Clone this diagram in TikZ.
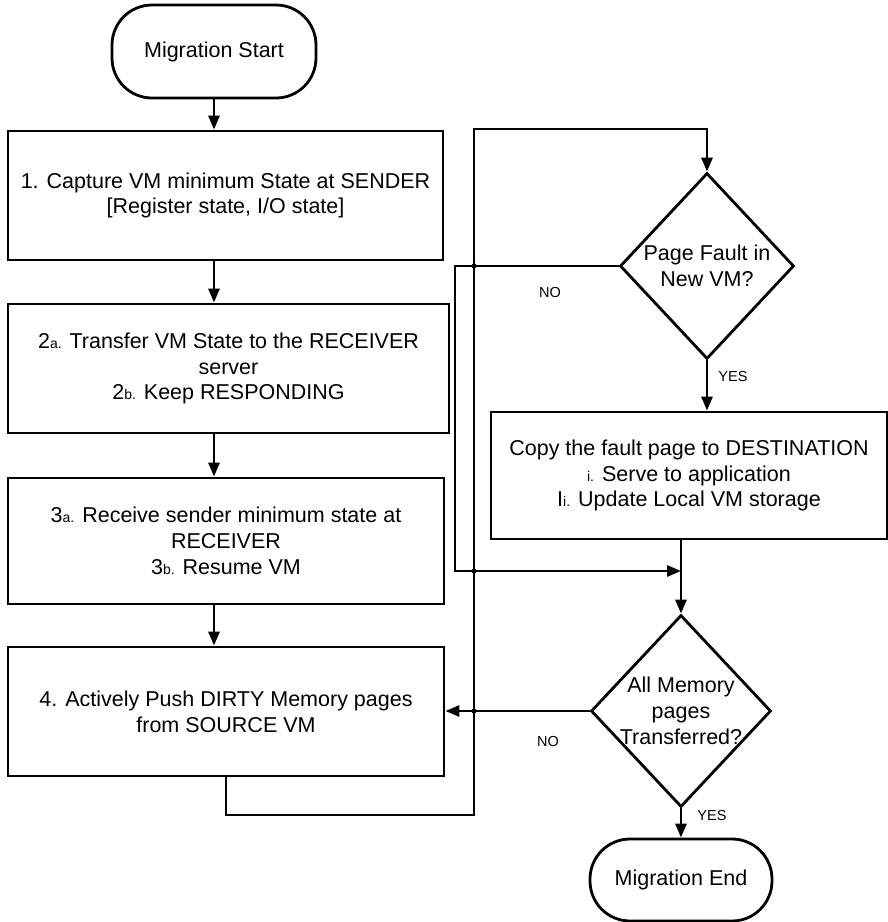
\documentclass[tikz,border=0pt]{standalone}
\usepackage{fontspec}
\setmainfont{Liberation Sans}
\usetikzlibrary{arrows.meta,shapes.geometric}
% small step letters (2a, 3b, i., ii.) set on the baseline
\newcommand\stepidx[1]{{\fontsize{14}{14}\selectfont #1}}
\begin{document}
\begin{tikzpicture}[x=1pt,y=-1pt,
  every node/.style={font=\fontsize{21.5}{25.8}\selectfont},
  procbox/.style={draw, line width=2.8pt, rectangle, inner sep=0pt, align=center},
  termbox/.style={draw, line width=2.8pt, rectangle, rounded corners=40pt, inner sep=0pt, align=center},
  decision/.style={draw, line width=2.8pt, diamond, inner sep=0pt, shape aspect=1},
  flow/.style={line width=2.8pt, -{Triangle[length=14pt,width=11pt]}},
  wire/.style={line width=2.8pt},
  answer/.style={font=\fontsize{14.5}{16}\selectfont, inner sep=0pt},
  jump/.style={fill=black, draw=none}]
\useasboundingbox (0,0) rectangle (888,922);

% main sequence on the left
\node[termbox, minimum width=204pt, minimum height=93pt] (st) at (214,51.5) {Migration Start};
\node[procbox, minimum width=435pt, minimum height=129pt] (b1) at (225.5,195.5)
  {1. Capture VM minimum State at SENDER\\{}[Register state, I/O state]};
\node[procbox, minimum width=441pt, minimum height=129pt] (b2) at (228.5,368.5)
  {2\stepidx{a.} Transfer VM State to the RECEIVER\\server\\2\stepidx{b.} Keep RESPONDING};
\node[procbox, minimum width=436pt, minimum height=126pt] (b3) at (226,541)
  {3\stepidx{a.} Receive sender minimum state at\\RECEIVER\\3\stepidx{b.} Resume VM};
\node[procbox, minimum width=436pt, minimum height=129pt] (b4) at (226,711.5)
  {4. Actively Push DIRTY Memory pages\\from SOURCE VM};

% decision loop on the right
\node[decision, minimum width=174pt, minimum height=186pt,
  label={[align=center, inner sep=0pt]center:{Page Fault in\\New VM?}}] (d1) at (707,266) {};
\node[procbox, minimum width=396pt, minimum height=127pt] (cp) at (689,475.5)
  {Copy the fault page to DESTINATION\\\stepidx{i.} Serve to application\\I\stepidx{i.} Update Local VM storage};
\node[decision, minimum width=180pt, minimum height=192pt,
  label={[align=center, inner sep=0pt]center:{All Memory\\pages\\Transferred?}}] (d2) at (681,711) {};
\node[termbox, minimum width=182pt, minimum height=82pt] (en) at (681,880) {Migration End};

% routing points
\coordinate (loop) at (474,815);
\coordinate (bus) at (474,129);
\coordinate (nox) at (455,571);

% straight flow
\draw[flow] (st.south) -- (st.south |- b1.north);
\draw[flow] (b1.south -| st.south) -- (b2.north -| st.south);
\draw[flow] (b2.south -| st.south) -- (b3.north -| st.south);
\draw[flow] (b3.south -| st.south) -- (b4.north -| st.south);

% return path from step 4 up to the page fault test
\draw[flow] (b4.south) -- (b4.south |- loop) -- (loop) -- (bus) -- (bus -| d1.north) -- (d1.north);

% page fault test
\draw[flow] (d1.south) -- (d1.south |- cp.north);
\draw[flow] (d1.west) -- (d1.west -| nox) -- (nox) -- (nox -| d2.north);
\draw[flow] (d2.north |- cp.south) -- (d2.north);

% all pages test
\draw[flow] (d2.west) -- (d2.west -| b4.east);
\draw[flow] (d2.south) -- (en.north);

% crossing marks on the return path
\fill[jump] (bus |- d1.west) circle (2.6pt);
\fill[jump] (bus |- nox) circle (2.6pt);
\fill[jump] (bus |- d2.west) circle (2.6pt);

% branch labels
\node[answer] (no1) at (550,293) {NO};
\node[answer] (yes1) at (733,377) {YES};
\node[answer] (no2) at (548,741) {NO};
\node[answer] (yes2) at (712,815) {YES};
\end{tikzpicture}
\end{document}
